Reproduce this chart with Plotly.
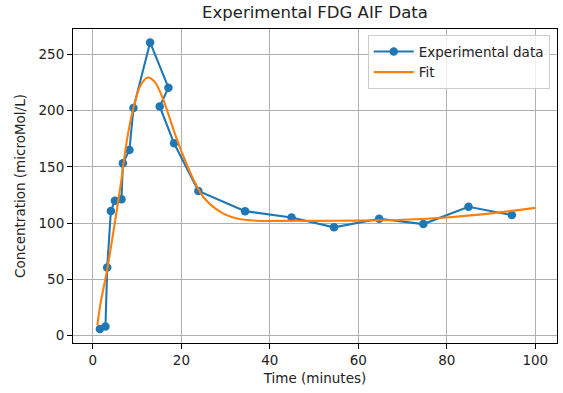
import plotly.graph_objects as go

# Experimental data (in the order they are drawn)
time_min = [1.58, 2.84, 3.23, 4.06, 4.97, 6.46, 6.77, 8.26, 9.16, 12.93,
            17.07, 15.1, 18.35, 23.84, 34.4, 44.9, 54.5, 64.7, 74.7, 84.9, 94.7]
conc = [5.7, 8.0, 60.4, 110.8, 119.9, 121.2, 153.2, 165.0, 202.3, 260.7,
        220.5, 203.8, 171.0, 128.6, 110.6, 105.0, 96.2, 103.8, 99.1, 114.5, 107.1]

# Fitted curve
fit_t = [1.0, 1.7, 3.2, 4.7, 6.2, 7.7, 9.2, 10.7, 12.4, 14.1, 16.0, 18.3, 20.5,
         22.8, 25.0, 28.8, 32.6, 37.0, 45.0, 55.0, 65.0, 70.0, 80.0, 90.0, 100.0]
fit_c = [9, 28, 58, 94, 132, 174, 203, 222, 229.5, 225, 209, 182, 159,
         138, 123, 110, 104, 102, 102, 102, 102.5, 103, 105, 108.6, 113.5]

x_ticks = [0, 20, 40, 60, 80, 100]
y_ticks = [0, 50, 100, 150, 200, 250]

BLUE = "#1f77b4"
ORANGE = "#ff7f0e"
FONT = "DejaVu Sans"

fig = go.Figure()
fig.add_trace(go.Scatter(
    x=time_min, y=conc, mode="lines+markers", name="Experimental data",
    line=dict(color=BLUE, width=2.1),
    marker=dict(color=BLUE, size=8.5, line=dict(width=0)),
))
fig.add_trace(go.Scatter(
    x=fit_t, y=fit_c, mode="lines", name="Fit",
    line=dict(color=ORANGE, width=2.1, shape="spline", smoothing=0.8),
))

axis_common = dict(
    showline=True, linecolor="black", linewidth=1.1, mirror=True,
    showgrid=True, gridcolor="#b0b0b0", gridwidth=1.1,
    ticks="outside", ticklen=5, tickwidth=1.1, tickcolor="black",
    zeroline=False, tickfont=dict(family=FONT, size=13.5, color="#222"),
)

fig.update_layout(
    width=563, height=393,
    margin=dict(l=72.7, r=5.7, t=28.7, b=49.7),
    paper_bgcolor="white", plot_bgcolor="white",
    font=dict(family=FONT, size=13.5, color="#222"),
    title=dict(text="Experimental FDG AIF Data", x=(72.7 + 557.3) / 2 / 563,
               xanchor="center", y=1 - 12.5 / 393, yanchor="middle",
               font=dict(family=FONT, size=16.5, color="#222")),
    xaxis=dict(range=[-4.5, 104.9], tickvals=x_ticks,
               title=dict(text="Time (minutes)", standoff=6,
                          font=dict(family=FONT, size=13.5)),
               **axis_common),
    yaxis=dict(range=[-6.75, 272.7], tickvals=y_ticks,
               title=dict(text="Concentration (microMol/L)", standoff=9,
                          font=dict(family=FONT, size=13.5)),
               **axis_common),
    legend=dict(x=0.985, xanchor="right", y=0.98, yanchor="top",
                bgcolor="rgba(255,255,255,0.8)", bordercolor="#cccccc",
                borderwidth=1, font=dict(family=FONT, size=13.5, color="#222"),
                itemwidth=40, tracegroupgap=0),
    showlegend=True,
)

fig.write_html("out.html")
